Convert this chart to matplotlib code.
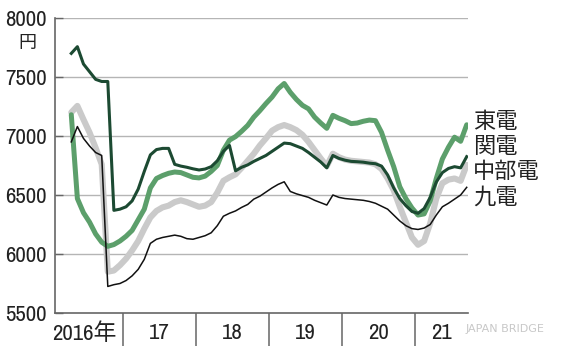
import numpy as np
import matplotlib
matplotlib.use("Agg")
import matplotlib.pyplot as plt
from matplotlib import font_manager

# ---------------- data ----------------
start_year = 2016
start_month = 4  # first monthly point: April 2016

series_labels = ["東電", "関電", "中部電", "九電"]

toden = [7180, 6470, 6350, 6270, 6170, 6100, 6065, 6080, 6110, 6150,
         6200, 6290, 6380, 6560, 6640, 6665, 6684, 6695, 6690, 6670,
         6650, 6645, 6660, 6700, 6750, 6880, 6965, 6995, 7040, 7090,
         7160, 7215, 7275, 7330, 7400, 7445, 7370, 7310, 7260, 7230,
         7160, 7110, 7065, 7175, 7150, 7130, 7105, 7110, 7125, 7135,
         7130, 7030, 6880, 6740, 6570, 6470, 6390, 6330, 6340, 6450,
         6640, 6805, 6905, 6990, 6955, 7095]

kanden = [7700, 7757, 7610, 7545, 7480, 7462, 7462, 6370, 6380, 6400,
          6450, 6550, 6700, 6840, 6885, 6895, 6895, 6760, 6745, 6735,
          6722, 6712, 6720, 6740, 6790, 6870, 6920, 6705, 6735, 6755,
          6785, 6810, 6835, 6870, 6905, 6940, 6935, 6915, 6895, 6860,
          6820, 6780, 6730, 6835, 6810, 6795, 6785, 6782, 6778, 6770,
          6765, 6745, 6670, 6560, 6470, 6410, 6360, 6345, 6385, 6480,
          6610, 6690, 6725, 6740, 6730, 6825]

chubu = [7200, 7255, 7140, 7030, 6900, 6760, 5850, 5860, 5905, 5960,
         6030, 6110, 6215, 6310, 6365, 6395, 6410, 6440, 6455, 6440,
         6420, 6400, 6410, 6440, 6520, 6620, 6650, 6675, 6730, 6790,
         6850, 6920, 6980, 7045, 7075, 7093, 7075, 7050, 7010, 6950,
         6880, 6810, 6745, 6850, 6820, 6800, 6790, 6785, 6780, 6775,
         6760, 6720, 6640, 6540, 6400, 6270, 6140, 6078, 6110, 6260,
         6470, 6600, 6630, 6640, 6620, 6755]

kyuden = [6950, 7080, 6980, 6915, 6860, 6835, 5725, 5740, 5750, 5775,
          5815, 5870, 5955, 6090, 6125, 6140, 6150, 6160, 6150, 6130,
          6125, 6140, 6155, 6180, 6240, 6320, 6345, 6365, 6395, 6420,
          6465, 6490, 6525, 6560, 6590, 6612, 6530, 6510, 6495, 6480,
          6455, 6435, 6415, 6500, 6480, 6470, 6465, 6460, 6455, 6445,
          6430, 6405, 6380, 6330, 6280, 6240, 6215, 6208, 6220, 6250,
          6330, 6400, 6430, 6465, 6500, 6565]

year_labels = ["2016年", "17", "18", "19", "20", "21"]
y_ticks = [5500, 6000, 6500, 7000, 7500, 8000]

# ---------------- fonts ----------------
avail = {f.name for f in font_manager.fontManager.ttflist}
num_font = "Liberation Sans"
for cand in ["Archivo Narrow", "Roboto Condensed", "IBM Plex Sans Condensed",
             "Fira Sans Condensed", "Liberation Sans"]:
    if cand in avail:
        num_font = cand
        break
fam = [num_font, "Noto Sans CJK JP", "DejaVu Sans"]
cjk = ["Noto Sans CJK JP", "DejaVu Sans"]
plt.rcParams["font.family"] = fam

txt_color = "#222222"

# ---------------- figure ----------------
fig = plt.figure(figsize=(5.7, 3.57), dpi=100)
fig.patch.set_facecolor("white")
ax = fig.add_axes([55 / 570, 1 - 313 / 357, (468 - 55) / 570, (313 - 18) / 357])

n = len(toden)
x = start_year + (start_month - 1 + np.arange(n) + 0.5) / 12.0

ax.plot(x, chubu, color="#cacaca", lw=4.4, solid_capstyle="round", solid_joinstyle="round", zorder=3)
ax.plot(x, toden, color="#5c9f6b", lw=3.6, solid_capstyle="round", solid_joinstyle="round", zorder=4)
ax.plot(x, kanden, color="#1c4a32", lw=2.2, solid_joinstyle="round", zorder=5)
ax.plot(x, kyuden, color="#111111", lw=1.1, solid_joinstyle="round", zorder=6)

x_left = 2016 + 5 / 73
x_right = 2016 + 418 / 73
ax.set_xlim(x_left, x_right)
ax.set_ylim(5500, 8000)

# grid
ax.set_yticks(y_ticks)
ax.set_yticklabels([str(v) for v in y_ticks])
for v in y_ticks[1:]:
    ax.axhline(v, color="#b5b5b5", lw=1.0, zorder=1)
ax.tick_params(axis="y", which="major", direction="in", length=6, width=1,
               color="#666666", pad=6, labelsize=16.5, labelcolor=txt_color)

# x axis: separators as minor ticks, labels at year centres
years = np.arange(start_year, start_year + len(year_labels))
bounds = years[1:]
centres = [2016.47] + [y + 0.5 for y in years[1:-1]] + [(2021 + x_right) / 2]
ax.set_xticks(centres)
ax.set_xticklabels(year_labels)
ax.set_xticks(bounds, minor=True)
ax.tick_params(axis="x", which="major", length=0, pad=7, labelsize=16.5, labelcolor=txt_color)
ax.tick_params(axis="x", which="minor", direction="out", length=24, width=1.1, color="#666666")

for s in ["top", "right"]:
    ax.spines[s].set_visible(False)
for s in ["left", "bottom"]:
    ax.spines[s].set_color("#666666")
    ax.spines[s].set_linewidth(1.2)

# unit
fig.text(27 / 570, 1 - 43 / 357, "円", fontsize=13, family=cjk, color=txt_color,
         ha="center", va="center")

# series labels at right
label_y = [121.7, 146.7, 171.7, 196.7]
for lab, py in zip(series_labels, label_y):
    fig.text(473 / 570, 1 - py / 357, lab, fontsize=16, family=cjk, color=txt_color,
             ha="left", va="center")

# faint watermark
fig.text(505 / 570, 1 - 329 / 357, "JAPAN BRIDGE", fontsize=8, color="#c8c8c8",
         family=["DejaVu Sans"], ha="center", va="center")

fig.savefig("out.png", dpi=100)
